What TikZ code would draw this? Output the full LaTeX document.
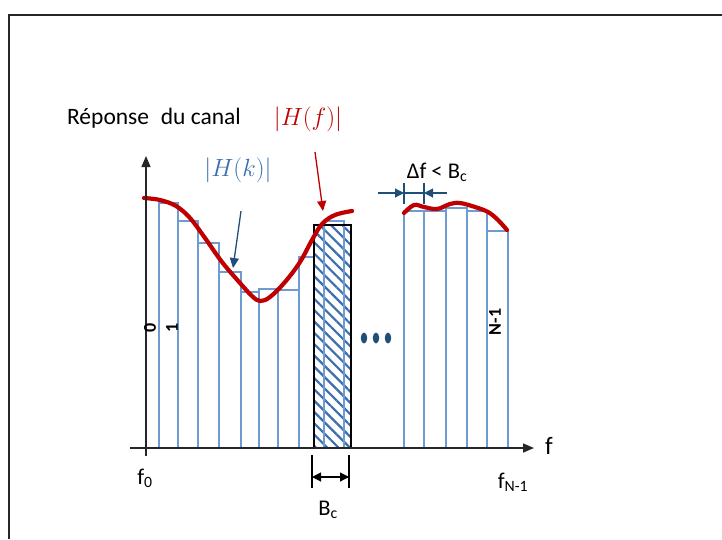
\documentclass[tikz,border=0pt]{standalone}
\usepackage{fontspec}
\setmainfont{Carlito}
\usepackage{tikz}
\usetikzlibrary{arrows.meta,patterns.meta}
\definecolor{canalred}{HTML}{C00000}
\definecolor{barblue}{HTML}{6F9BD3}
\definecolor{hatchblue}{HTML}{3D6FB0}
\definecolor{darkblue}{HTML}{1F4E79}
\definecolor{hkblue}{HTML}{3A70B0}
\tikzset{
  bar/.style={draw=barblue, line width=1.3pt},
  curve/.style={draw=canalred, line width=4.2pt, line cap=round, line join=round},
  lbl/.style={inner sep=0pt, font=\fontsize{22.5}{26}\selectfont},
  mlbl/.style={inner sep=0pt, font=\fontsize{24.88}{30}\selectfont},
  idx/.style={inner sep=0pt, font=\fontsize{18}{20}\selectfont\bfseries, rotate=90},
  axis/.style={line width=1.5pt, draw=black!85, -{Triangle[length=11pt,width=9pt]}},
  dimarr/.style={draw=darkblue, line width=1.1pt},
  bctick/.style={draw=black, line width=1.1pt},
}

\begin{document}
\begin{tikzpicture}[x=1pt,y=-1pt]
  \useasboundingbox (0,0) rectangle (722,539);
  % frame
  \draw[line width=2pt,black!85] (722,14.5) -- (8.5,14.5) -- (8.5,539);
  % LEFT: subcarriers 0,1,...
  \foreach \xa/\xb/\yt in {146/159/199,159/178/203,178/198/221,198/219/243,
      219/241/272,241/259/292,259/278/289,278/299/290,299/314/257}
    \draw[bar] (\xa,448) |- (\xb,\yt) -- (\xb,448);
  % hatched band of width Bc
  \fill[white] (314,225) rectangle (351,448);
  \fill[pattern={Lines[angle=-45,distance=8pt,line width=2.2pt]},pattern color=hatchblue]
    (314,225) rectangle (351,448);
  \draw[bar] (324,448) |- (344,221) -- (344,448);
  \draw[black,line width=1.3pt] (314,225) rectangle (351,448);
  % RIGHT: last subcarriers up to N-1
  \foreach \xa/\xb/\yt in {404/424/211,424/446/211,446/467/208,467/487/211,487/508/231}
    \draw[bar] (\xa,448) |- (\xb,\yt) -- (\xb,448);
  % channel response
  \draw[curve] plot[smooth,tension=0.6] coordinates {(144,198) (160,200) (176,206) (190,218)
    (205,238) (222,262) (240,283) (252,296) (260,301) (270,297) (285,282) (300,262)
    (312,240) (322,224) (335,215) (352,211)};
  \draw[curve] plot[smooth,tension=0.6] coordinates {(404,213) (414,205) (424,207)
    (437,209) (450,204) (460,203) (475,207) (488,212) (498,220) (507,230)};
  % axes
  \coordinate (ybot) at (146,456);
  \coordinate (ytop) at (146,156);
  \coordinate (xleft) at (130,448);
  \coordinate (xright) at (534,448);
  \draw[axis] (ybot) -- (ytop);
  \draw[axis] (xleft) -- (xright);
  % dots
  \foreach \xd [count=\i] in {364,376,388}
    \fill[darkblue] (\xd,338) ellipse (3.2pt and 5.5pt);
  % labels
  \node[lbl,font=\fontsize{23.5}{27}\selectfont] (titre) at (154,118) {Réponse\hspace{0.5em}du canal};
  \node[mlbl,text=canalred] (hf) at (308,119) {$|H(f)|$};
  \node[mlbl,text=hkblue] (hk) at (238,170) {$|H(k)|$};
  \node[lbl] (delta) at (437,172) {Δf < B\textsubscript{c}};
  \node[lbl,font=\fontsize{25}{28}\selectfont] (fax) at (549,446) {f};
  \node[lbl] (f0) at (145,478) {f\textsubscript{0}};
  \node[lbl] (fN) at (513,482) {f\textsubscript{N-1}};
  \node[lbl] (bc) at (328,510) {B\textsubscript{c}};
  \node[idx] (k0) at (150,328) {0};
  \node[idx] (k1) at (172,328) {1};
  \node[idx] (kN) at (495,322) {N-1};
  % pointers
  \coordinate (hfA) at (315,152);
  \coordinate (hfB) at (323,211);
  \draw[canalred,line width=1.3pt,-{Triangle[length=10pt,width=9pt]}] (hfA) -- (hfB);
  \coordinate (hkA) at (241,211);
  \coordinate (hkB) at (233,268);
  \draw[darkblue,line width=1.3pt,-{Triangle[length=10pt,width=9pt]}] (hkA) -- (hkB);
  % spacing delta f
  \coordinate (dl) at (404,193);
  \coordinate (dr) at (424,193);
  \coordinate (dlo) at (378,193);
  \coordinate (dro) at (447,193);
  \draw[dimarr,-{Triangle[length=9pt,width=9pt]}] (dlo) -- (dl);
  \draw[dimarr,-{Triangle[length=9pt,width=9pt]}] (dro) -- (dr);
  \draw[dimarr] (dl) -- (dr);
  \draw[dimarr] (404,183) -- (404,204);
  \draw[dimarr] (424,183) -- (424,204);
  % width Bc
  \coordinate (bcl) at (312,477);
  \coordinate (bcr) at (349,477);
  \draw[bctick] (312,455) -- (312,488);
  \draw[bctick] (349,455) -- (349,488);
  \draw[bctick,{Triangle[length=9pt,width=9pt]}-{Triangle[length=9pt,width=9pt]}] (bcl) -- (bcr);
\end{tikzpicture}
\end{document}
